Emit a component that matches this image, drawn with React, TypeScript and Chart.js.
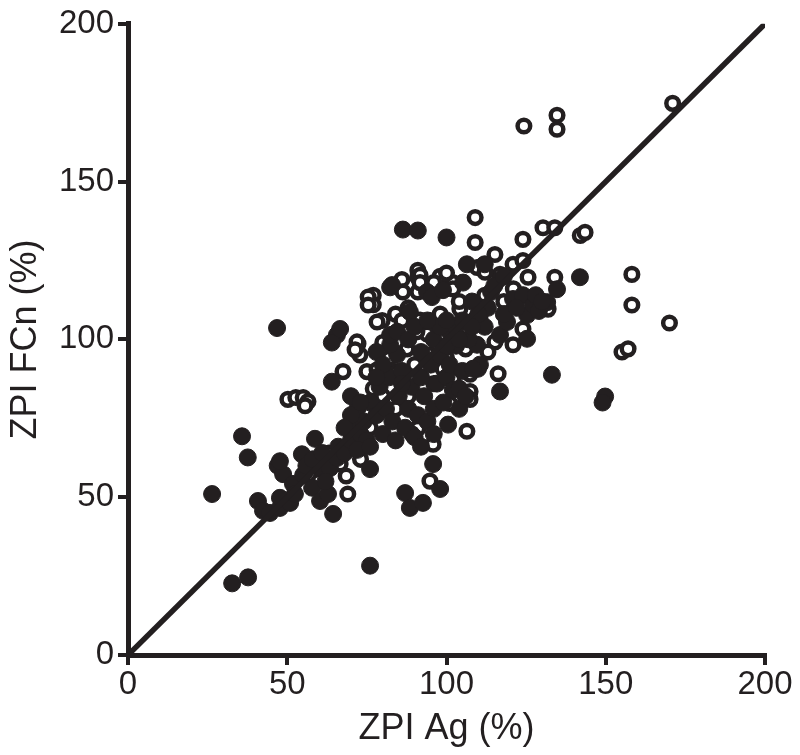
import React, { useEffect, useRef } from "react";
import { Chart, registerables } from "chart.js";

Chart.register(...registerables);

const xTicks = [0, 50, 100, 150, 200];
const yTicks = [0, 50, 100, 150, 200];
const xTitle = "ZPI Ag (%)";
const yTitle = "ZPI FCn (%)";

// Filled circles [x, y]
const filledPts: number[][] = [
  [26.4, 51], [32.7, 22.7], [37.7, 24.6], [35.8, 69.3], [37.6, 62.6], [40.8, 48.8], [42.4, 45.7],
  [44.6, 45], [46.8, 103.6], [47.7, 46.6], [47.7, 49.8], [47, 60], [48.7, 57.3], [47.7, 61.4],
  [50.9, 48.2], [51.8, 54.2], [52.4, 51], [54.6, 63.6], [57.8, 53], [58.7, 68.5], [60.3, 59.2],
  [60.3, 48.8], [62.8, 51], [63.4, 59.2], [64.4, 44.7], [65.6, 62.4], [76, 58.9], [76, 28.3],
  [64, 86.6], [65.6, 101.4], [64, 99], [66.6, 103.3], [55, 57], [56, 60], [58, 62], [61, 64],
  [62, 55], [66, 66], [68, 64], [70, 68], [71, 72], [72, 78], [73, 70], [74, 74], [70, 82],
  [75, 68], [72, 65], [76, 80], [78, 76], [79, 85], [80, 70], [81, 78], [82, 88], [83, 74],
  [84, 68], [85, 82], [86, 90], [87, 72], [88, 78], [89, 85], [90, 69], [91, 76], [92, 88],
  [93, 82], [94, 74], [95, 92], [96, 78], [97, 86], [98, 95], [99, 80], [100, 88], [101, 92],
  [102, 84], [103, 98], [104, 84.4], [105, 90], [109.9, 90.7], [110.5, 92], [108.3, 90.7],
  [100.5, 73], [95.8, 60.5], [98, 52.6], [87, 51.3], [88.5, 46.6], [92.6, 48.2], [84.5, 95.1],
  [82.3, 98.3], [82.3, 101.4], [84.5, 102.4], [88.5, 108.7], [93.9, 115], [95.4, 113.4],
  [98.9, 115.6], [105.2, 118], [106.4, 123.8], [82.3, 116.5], [82.9, 117.2], [86.3, 134.8],
  [91, 134.5], [100, 132.3], [101, 102.4], [109.6, 98.3], [96, 100], [98, 104], [100, 98],
  [103, 104], [105, 106], [107, 100], [112, 104], [113, 110], [114, 115], [116.8, 101.4],
  [116.8, 83.5], [119, 105.5], [120.9, 112.8], [124, 114], [125.3, 107.7], [125.3, 100.2],
  [127.2, 110.9], [129, 109], [131.6, 111.8], [134.7, 115.9], [133.1, 88.8], [141.9, 119.7],
  [149.8, 81.9], [149, 80], [112, 123.8], [115, 117], [118, 120], [108, 112], [110, 108],
  [78, 96], [80, 92], [88, 100], [90, 104], [92, 96], [94, 106], [86, 86], [96, 70], [92, 66],
  [104, 78], [106, 82], [76, 66], [78, 88], [100, 106], [104, 100], [108, 104], [118, 108],
  [122, 110], [128, 114], [130, 112], [70, 76], [68, 72], [73, 80]
];

// Open circles [x, y]
const openPts: number[][] = [
  [171, 174.8], [134.7, 171], [134.7, 166.6], [124.3, 167.6], [158.2, 120.6], [158.2, 110.9],
  [170, 105.2], [155.1, 96], [157, 97], [142, 132.9], [143.5, 133.9], [130.3, 135.4], [134, 135.4],
  [124, 131.7], [109, 138.6], [109, 130.7], [115.2, 126.9], [111.5, 122.2], [120.9, 123.8],
  [116.8, 120.6], [124, 125], [125.6, 119.7], [134, 119.7], [131.9, 109.6], [124, 103.3],
  [120.9, 98.3], [115.2, 99.2], [116.2, 89.1], [111.5, 123.5], [109.6, 122.8], [112.1, 121.3],
  [91, 121.9], [91, 119.7], [91, 115], [86, 119], [86.3, 115], [91.7, 120.3], [91.7, 118],
  [77, 114], [77, 111], [75.4, 113.4], [75.4, 110.9], [79.8, 106], [78.2, 105.5], [94.8, 106],
  [93.9, 101.7], [90.7, 102.4], [91.7, 106.1], [104.2, 109.6], [110.5, 106.5], [72.2, 98.6],
  [72.8, 95.1], [71.9, 99.2], [71.3, 96.7], [67.5, 89.8], [94.8, 95.1], [87.6, 97], [102, 118],
  [102, 116], [75, 89.8], [77, 84.4], [84.5, 89.8], [78.2, 90.4], [98.9, 90.7], [102, 87.6],
  [107.4, 83.5], [107.4, 81], [101, 79.7], [106.4, 70.9], [95.8, 66.8], [94.8, 55.1],
  [91, 71.8], [89, 70.2], [69, 51], [66.6, 60.5], [68.5, 56.7], [50.2, 81], [52.7, 81.6],
  [55, 81.6], [56.5, 80.3], [55.6, 79], [107.4, 89], [98, 120], [96, 118], [100, 121],
  [104, 112], [88, 110], [84, 108], [80, 99], [82, 94], [86, 106], [98, 108], [106, 97],
  [112, 114], [118, 112], [121, 116], [100, 94], [96, 86], [90, 92], [88, 82], [80, 82],
  [84, 78], [76, 72], [72, 70], [63, 64], [60, 55], [73, 62], [98, 100], [105, 100], [113, 96]
];

const identityLine = [0, 200];

export default function App() {
  const ref = useRef<HTMLCanvasElement | null>(null);

  useEffect(() => {
    document.body.style.margin = "0";
    const canvas = ref.current;
    if (!canvas) return;
    const font = "'Liberation Sans', Arial, sans-serif";
    const ink = "#231f20";
    const chart = new Chart(canvas, {
      type: "scatter",
      data: {
        datasets: [
          {
            type: "line",
            data: identityLine.map((v) => ({ x: v, y: v })),
            borderColor: ink,
            borderWidth: 5.5,
            pointRadius: 0,
            order: 0,
          } as any,
          {
            data: filledPts.map(([x, y]) => ({ x, y })),
            backgroundColor: ink,
            borderColor: ink,
            borderWidth: 1,
            pointRadius: 8.5,
            order: 1,
          },
          {
            data: openPts.map(([x, y]) => ({ x, y })),
            backgroundColor: "#ffffff",
            borderColor: ink,
            borderWidth: 4.5,
            pointRadius: 6.3,
            order: 2,
          },
        ],
      },
      options: {
        animation: false,
        responsive: false,
        maintainAspectRatio: false,
        layout: { padding: { top: 0, right: 35, left: 0, bottom: 0 } },
        plugins: { legend: { display: false }, tooltip: { enabled: false } },
        scales: {
          x: {
            type: "linear",
            min: 0,
            max: 200,
            afterBuildTicks: (s: any) => {
              s.ticks = xTicks.map((v) => ({ value: v }));
            },
            afterFit: (s: any) => {
              s.height = 100;
            },
            border: { display: true, color: ink, width: 5 },
            grid: { drawOnChartArea: false, color: ink, lineWidth: 4, tickLength: 10 },
            ticks: { color: ink, font: { family: font, size: 33 }, padding: 0, maxRotation: 0 },
            title: { display: true, text: xTitle, color: ink, font: { family: font, size: 36 }, padding: { top: 0 } },
          },
          y: {
            type: "linear",
            min: 0,
            max: 200,
            afterBuildTicks: (s: any) => {
              s.ticks = yTicks.map((v) => ({ value: v }));
            },
            afterFit: (s: any) => {
              s.width = 128;
            },
            border: { display: true, color: ink, width: 5 },
            grid: { drawOnChartArea: false, color: ink, lineWidth: 4, tickLength: 10 },
            ticks: { color: ink, font: { family: font, size: 33 }, padding: 4 },
            title: { display: true, text: yTitle, color: ink, font: { family: font, size: 36 }, padding: { bottom: 6 } },
          },
        },
      },
    } as any);
    return () => chart.destroy();
  }, []);

  return <canvas ref={ref} width={800} height={755} style={{ display: "block" }} />;
}
